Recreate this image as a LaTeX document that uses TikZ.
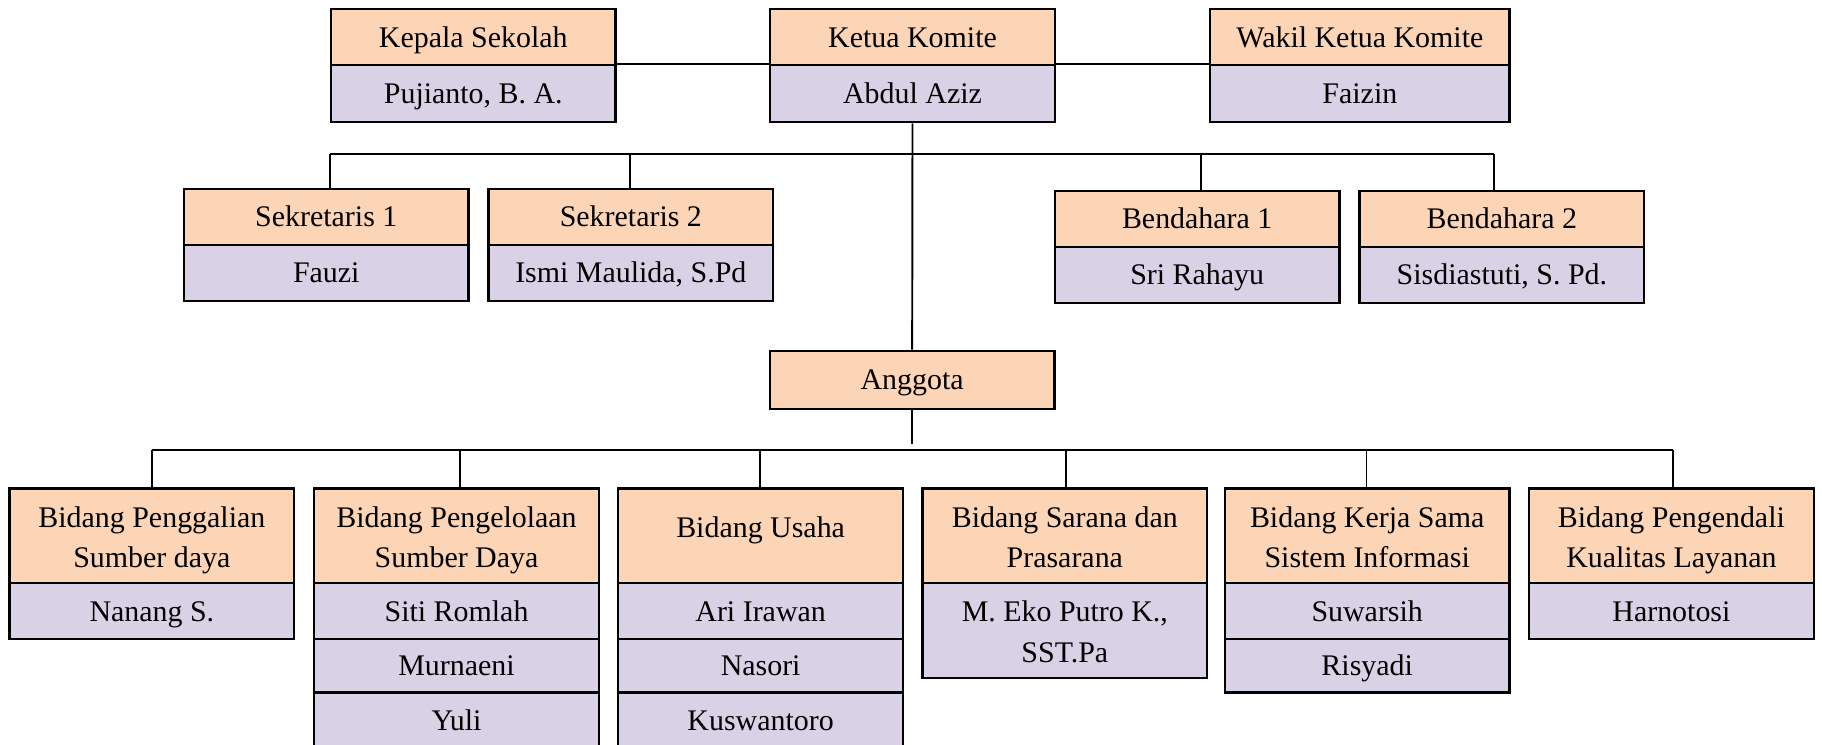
\documentclass[tikz,border=0pt]{standalone}
\usepackage{fontspec}
\setmainfont{Liberation Serif}
\definecolor{peach}{HTML}{FBD5B5}
\definecolor{lilac}{HTML}{D9D2E6}
\newcommand\sst{\rule[-2.4pt]{0pt}{10.4pt}}
\newcommand\tst{\rule{0pt}{9pt}}
\newcommand\dst{\rule[-7pt]{0pt}{1pt}}
\begin{document}
\begin{tikzpicture}[x=0.33pt,y=-0.33pt,
  cellbase/.style={draw=black, line width=0.65pt, rectangle, inner sep=0pt, align=center,
    font=\fontsize{8.5}{11.6}\selectfont, execute at begin node=\sst},
  hdr/.style={cellbase, fill=peach},
  nm/.style={cellbase, fill=lilac},
  sz/.style 2 args={minimum width=#1*0.33pt, minimum height=#2*0.33pt},
  conn/.style={line width=0.55pt, draw=black}]
\useasboundingbox (0,0) rectangle (1568,641);
\clip (0,0) rectangle (1568,641);

% ---- top row
\node[hdr, sz={245}{48.2}] (kh) at (407.3,32.1) {Kepala Sekolah};
\node[nm,  sz={245}{49.1}] (kn) at (407.3,80.75) {Pujianto, B. A.};
\node[hdr, sz={245}{48.2}] (th) at (785.3,32.1) {Ketua Komite};
\node[nm,  sz={245}{49.1}] (tn) at (785.3,80.75) {Abdul Aziz};
\node[hdr, sz={257.5}{48.2}] (wh) at (1170.3,32.1) {Wakil Ketua Komite};
\node[nm,  sz={257.5}{49.1}] (wn) at (1170.3,80.75) {Faizin};

% ---- second row
\node[hdr, sz={245}{48.5}] (s1h) at (280.8,186.75) {Sekretaris 1};
\node[nm,  sz={245}{48}]   (s1n) at (280.8,235) {Fauzi};
\node[hdr, sz={245}{48.5}] (s2h) at (542.9,186.75) {Sekretaris 2};
\node[nm,  sz={245}{48}]   (s2n) at (542.9,235) {Ismi Maulida, S.Pd};
\node[hdr, sz={245}{48.3}] (b1h) at (1030.3,188.5) {Bendahara 1};
\node[nm,  sz={245}{47.8}] (b1n) at (1030.3,236.6) {Sri Rahayu};
\node[hdr, sz={245}{48.3}] (b2h) at (1292.5,188.5) {Bendahara 2};
\node[nm,  sz={245}{47.8}] (b2n) at (1292.5,236.6) {Sisdiastuti, S. Pd.};

% ---- anggota
\node[hdr, sz={245}{50.3}] (ag) at (785,327.1) {Anggota};

% ---- third row
\node[hdr, sz={245}{81.7}] (d1h) at (130.7,461.15) {\tst Bidang Penggalian\\\sst Sumber daya};
\node[nm,  sz={245}{48}]   (d1a) at (130.7,526) {Nanang S.};

\node[hdr, sz={245}{81.7}] (d2h) at (392.9,461.15) {\tst Bidang Pengelolaan\\\sst Sumber Daya};
\node[nm,  sz={245}{48}]   (d2a) at (392.9,526) {Siti Romlah};
\node[nm,  sz={245}{46}]   (d2b) at (392.9,573) {Murnaeni};
\node[nm,  sz={245}{48}]   (d2c) at (392.9,620) {Yuli};

\node[hdr, sz={245}{81.7}] (d3h) at (654.6,461.15) {Bidang Usaha\dst};
\node[nm,  sz={245}{48}]   (d3a) at (654.6,526) {Ari Irawan};
\node[nm,  sz={245}{46}]   (d3b) at (654.6,573) {Nasori};
\node[nm,  sz={245}{48}]   (d3c) at (654.6,620) {Kuswantoro};

\node[hdr, sz={245}{81.7}] (d4h) at (916.4,461.15) {\tst Bidang Sarana dan\\\sst Prasarana};
\node[nm,  sz={245}{81.7}] (d4a) at (916.4,542.85) {\tst M. Eko Putro K.,\\\sst SST.Pa};

\node[hdr, sz={245}{81.7}] (d5h) at (1176.6,461.15) {\tst Bidang Kerja Sama\\\sst Sistem Informasi};
\node[nm,  sz={245}{48}]   (d5a) at (1176.6,526) {Suwarsih};
\node[nm,  sz={245}{46}]   (d5b) at (1176.6,573) {Risyadi};

\node[hdr, sz={245}{81.7}] (d6h) at (1438.4,461.15) {\tst Bidang Pengendali\\\sst Kualitas Layanan};
\node[nm,  sz={245}{48}]   (d6a) at (1438.4,526) {Harnotosi};

% ---- connectors top
\draw[conn] (kn.north east) -- (tn.north west);
\draw[conn] (tn.north east) -- (wn.north west);
\draw[conn] (tn.south) -- (ag.north);

% second-row bus
\coordinate (p1) at (284.2,132.5);
\coordinate (p2) at (542.5,132.5);
\coordinate (p3) at (1033.6,132.5);
\coordinate (p4) at (1286,132.5);
\draw[conn] (p1) -- (p4);
\draw[conn] (p1) -- (p1 |- s1h.north);
\draw[conn] (p2) -- (p2 |- s2h.north);
\draw[conn] (p3) -- (p3 |- b1h.north);
\draw[conn] (p4) -- (p4 |- b2h.north);

% third-row bus
\coordinate (ae) at (785,382);
\draw[conn] (ag.south) -- (ae);
\coordinate (q1) at (130.5,387.3);
\coordinate (q2) at (395.9,387.3);
\coordinate (q3) at (654,387.3);
\coordinate (q4) at (917.5,387.3);
\coordinate (q5) at (1176,387.3);
\coordinate (q6) at (1440,387.3);
\draw[conn] (q1) -- (q6);
\draw[conn] (q1) -- (q1 |- d1h.north);
\draw[conn] (q2) -- (q2 |- d2h.north);
\draw[conn] (q3) -- (q3 |- d3h.north);
\draw[conn] (q4) -- (q4 |- d4h.north);
\draw[conn] (q5) -- (q5 |- d5h.north);
\draw[conn] (q6) -- (q6 |- d6h.north);
\end{tikzpicture}
\end{document}
